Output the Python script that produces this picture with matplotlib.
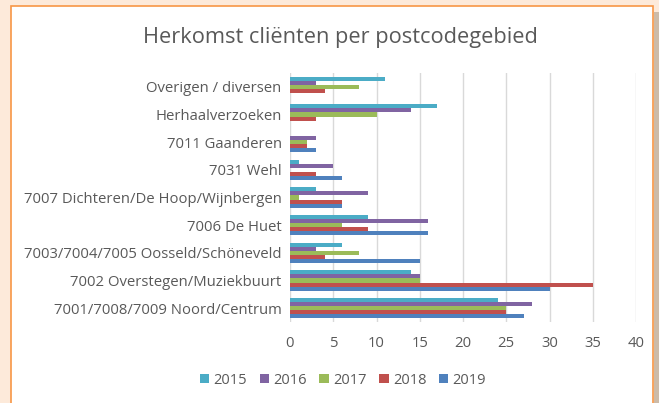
import matplotlib
matplotlib.use("Agg")
import matplotlib.pyplot as plt
from matplotlib.patches import Rectangle
import numpy as np

categories = [
    "7001/7008/7009 Noord/Centrum",
    "7002 Overstegen/Muziekbuurt",
    "7003/7004/7005 Oosseld/Schöneveld",
    "7006 De Huet",
    "7007 Dichteren/De Hoop/Wijnbergen",
    "7031 Wehl",
    "7011 Gaanderen",
    "Herhaalverzoeken",
    "Overigen / diversen",
]
years = ["2015", "2016", "2017", "2018", "2019"]
v2015 = [24, 14, 6, 9, 3, 1, 0, 17, 11]
v2016 = [28, 15, 3, 16, 9, 5, 3, 14, 3]
v2017 = [25, 15, 8, 6, 1, 0, 2, 10, 8]
v2018 = [25, 35, 4, 9, 6, 3, 2, 3, 4]
v2019 = [27, 30, 15, 16, 6, 6, 3, 0, 0]
series = [v2015, v2016, v2017, v2018, v2019]
colors = ["#4BACC6", "#8064A2", "#9BBB59", "#C0504D", "#4F81BD"]
xticks = [0, 5, 10, 15, 20, 25, 30, 35, 40]

W, H = 659, 403
fig = plt.figure(figsize=(W / 100, H / 100), dpi=100)
fig.patch.set_facecolor("#FDEADA")
# right shadow strip
fig.add_artist(Rectangle((654 / W, 0), 1 - 654 / W, 1 - 12 / H, transform=fig.transFigure,
                         facecolor="#CDBBA8", edgecolor="none", zorder=0))
# white panel with orange border
fig.add_artist(Rectangle((11 / W, -0.01), (653 - 11) / W, 1 - 6.5 / H + 0.01, transform=fig.transFigure,
                         facecolor="white", edgecolor="#F79646", linewidth=1.2, zorder=0))

ax = fig.add_axes([290 / W, 1 - 322 / H, (636 - 290) / W, (322 - 73) / H])
ax.set_facecolor("none")
y = np.arange(len(categories))
bh = 0.148
for i, (vals, c, lab) in enumerate(zip(series, colors, years)):
    off = (2 - i) * bh
    ax.barh(y + off, vals, height=bh, color=c, label=lab, zorder=3)

ax.set_xlim(0, 40)
ax.set_ylim(-0.5, 8.5)
ax.set_xticks(xticks)
ax.set_yticks(y)
ax.set_yticklabels(categories)
ax.grid(axis="x", color="#D9D9D9", linewidth=1.0, zorder=0)
ax.tick_params(axis="both", length=0, colors="#595959", labelsize=10.75)
ax.tick_params(axis="x", pad=10)
ax.tick_params(axis="y", pad=6)
for lbl in ax.get_xticklabels() + ax.get_yticklabels():
    lbl.set_fontfamily("Open Sans")
    lbl.set_color("#595959")
for s in ax.spines.values():
    s.set_visible(False)

fig.text(340 / W, 1 - 38 / H, "Herkomst cliënten per postcodegebied", ha="center", va="center",
         fontsize=15.7, color="#595959", family="Open Sans")

handles, labels = ax.get_legend_handles_labels()
leg = fig.legend(handles, labels, loc="center", bbox_to_anchor=(343 / W, 1 - 380 / H), ncol=5,
                 frameon=False, handlelength=0.65, handleheight=0.65,
                 handletextpad=0.3, columnspacing=0.85,
                 prop={"family": "Open Sans", "size": 10.5})
for t in leg.get_texts():
    t.set_color("#595959")

fig.savefig("out.png", dpi=100, facecolor=fig.get_facecolor())
